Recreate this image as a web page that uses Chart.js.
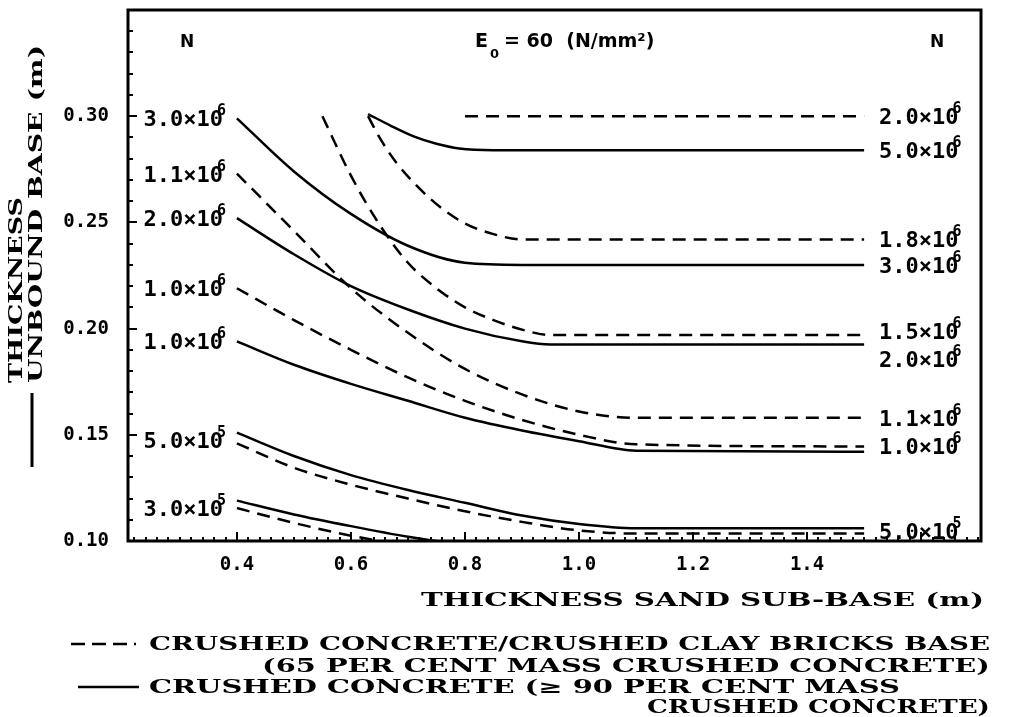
<!DOCTYPE html>
<html>
<head>
<meta charset="utf-8">
<title>Thickness unbound base vs thickness sand sub-base</title>
<script src="https://cdn.jsdelivr.net/npm/chart.js@4.4.1/dist/chart.umd.min.js"></script>
<style>
html, body { margin: 0; background: #fff; }
#wrap { width: 1010px; height: 717px; position: relative; }
</style>
</head>
<body>
<div id="wrap"><canvas id="thicknessChart"></canvas></div>
<script>
// curves: [sand sub-base (m), unbound base (m)]
// dashed = crushed concrete / crushed clay bricks, solid = crushed concrete
var dashed20e6 = [[0.80, 0.300], [1.50, 0.300]];
var solid50e6 = [[0.63, 0.301], [0.67, 0.2955], [0.71, 0.2905], [0.75, 0.287], [0.79, 0.2848], [0.85, 0.284], [1.50, 0.284]];
var dashed18e6 = [[0.63, 0.300], [0.65, 0.290], [0.68, 0.278], [0.72, 0.266], [0.76, 0.2565], [0.80, 0.2495], [0.85, 0.2445], [0.90, 0.242], [1.50, 0.242]];
var solid30e6 = [[0.40, 0.299], [0.50, 0.274], [0.60, 0.254], [0.70, 0.239], [0.80, 0.231], [0.90, 0.230], [1.50, 0.230]];
var dashed15e6 = [[0.55, 0.300], [0.60, 0.272], [0.65, 0.249], [0.70, 0.231], [0.75, 0.219], [0.80, 0.210], [0.85, 0.204], [0.90, 0.1995], [0.95, 0.197], [1.50, 0.197]];
var solid20e6 = [[0.40, 0.252], [0.50, 0.235], [0.60, 0.220], [0.70, 0.209], [0.80, 0.200], [0.90, 0.194], [0.95, 0.1925], [1.50, 0.1925]];
var dashed11e6 = [[0.40, 0.273], [0.50, 0.246], [0.60, 0.219], [0.70, 0.198], [0.80, 0.181], [0.90, 0.169], [1.00, 0.161], [1.10, 0.158], [1.50, 0.158]];
var dashed10e6 = [[0.40, 0.219], [0.50, 0.204], [0.60, 0.190], [0.70, 0.177], [0.80, 0.166], [0.90, 0.157], [1.00, 0.150], [1.10, 0.1455], [1.50, 0.1445]];
var solid10e6 = [[0.40, 0.194], [0.50, 0.183], [0.60, 0.174], [0.70, 0.166], [0.80, 0.158], [0.90, 0.152], [1.00, 0.147], [1.10, 0.1425], [1.50, 0.142]];
var solid50e5 = [[0.40, 0.151], [0.50, 0.140], [0.60, 0.131], [0.70, 0.124], [0.80, 0.118], [0.90, 0.112], [1.00, 0.108], [1.10, 0.106], [1.50, 0.106]];
var dashed50e5 = [[0.40, 0.146], [0.50, 0.1345], [0.60, 0.1265], [0.70, 0.120], [0.80, 0.114], [0.90, 0.109], [1.00, 0.105], [1.10, 0.1035], [1.50, 0.1035]];
var solid30e5 = [[0.40, 0.119], [0.50, 0.1125], [0.60, 0.107], [0.70, 0.102], [0.75, 0.100]];
var dashed30e5 = [[0.40, 0.1155], [0.50, 0.1085], [0.60, 0.1025], [0.65, 0.100]];

var xTickValues = [0.4, 0.6, 0.8, 1.0, 1.2, 1.4];
var yTickValues = [0.10, 0.15, 0.20, 0.25, 0.30];

// N labels: [mantissa, exponent] at the start / end of each curve
var curves = [
    { pts: dashed20e6, dashed: true,  left: null,         right: ['2.0', '6'] },
    { pts: solid50e6,  dashed: false, left: null,         right: ['5.0', '6'] },
    { pts: dashed18e6, dashed: true,  left: null,         right: ['1.8', '6'] },
    { pts: solid30e6,  dashed: false, left: ['3.0', '6'], right: ['3.0', '6'] },
    { pts: dashed15e6, dashed: true,  left: null,         right: ['1.5', '6'], rightDy: -4 },
    { pts: solid20e6,  dashed: false, left: ['2.0', '6'], right: ['2.0', '6'], rightDy: 14 },
    { pts: dashed11e6, dashed: true,  left: ['1.1', '6'], right: ['1.1', '6'] },
    { pts: dashed10e6, dashed: true,  left: ['1.0', '6'], right: ['1.0', '6'] },
    { pts: solid10e6,  dashed: false, left: ['1.0', '6'], right: null },
    { pts: solid50e5,  dashed: false, left: null,         right: null },
    { pts: dashed50e5, dashed: true,  left: ['5.0', '5'], right: ['5.0', '5'], leftDy: -3, rightDy: -3 },
    { pts: solid30e5,  dashed: false, left: null,         right: null },
    { pts: dashed30e5, dashed: true,  left: ['3.0', '5'], right: null }
];

var typeFont = 'bold 18px "DejaVu Serif", "Liberation Serif", serif';
var numFont = '"DejaVu Sans Mono", monospace';

// stretch a line of text so it spans x0..x1
function fitText(ctx, text, x0, x1, y) {
    var w = ctx.measureText(text).width;
    ctx.save();
    ctx.translate(x0, y);
    ctx.scale((x1 - x0) / w, 1);
    ctx.textAlign = 'left';
    ctx.fillText(text, 0, 0);
    ctx.restore();
}

function powerLabel(ctx, tag, x, cy, side) {
    ctx.font = 'bold 22px ' + numFont;
    var main = tag[0] + '\u00d710';
    var w = ctx.measureText(main).width;
    var x0 = side === 'left' ? x - w : x;
    ctx.textAlign = 'left';
    ctx.textBaseline = 'alphabetic';
    ctx.fillText(main, x0, cy + 8);
    ctx.font = 'bold 15px ' + numFont;
    ctx.fillText(tag[1], x0 + w - 6, cy - 3);
}

var annotate = {
    id: 'annotate',
    afterDatasetsDraw: function(chart) {
        var ctx = chart.ctx, a = chart.chartArea;
        var xs = chart.scales.x, ys = chart.scales.y;
        ctx.save();
        ctx.fillStyle = '#000';
        ctx.strokeStyle = '#000';

        // frame
        ctx.lineWidth = 3;
        ctx.strokeRect(a.left, a.top, a.right - a.left, a.bottom - a.top);

        // inward ticks
        ctx.lineWidth = 2;
        ctx.beginPath();
        for (var i = 10; i <= 35; i++) {
            var py = Math.round(ys.getPixelForValue(i / 100));
            var len = i % 5 === 0 ? 9 : 5;
            ctx.moveTo(a.left, py); ctx.lineTo(a.left + len, py);
        }
        for (var j = 11; j <= 85; j++) {
            var px = Math.round(xs.getPixelForValue(j * 0.02));
            var l2 = j % 10 === 0 ? 9 : 4;
            ctx.moveTo(px, a.bottom); ctx.lineTo(px, a.bottom - l2);
        }
        ctx.stroke();

        // N labels at both ends of the curves
        curves.forEach(function(c) {
            var p0 = c.pts[0], p1 = c.pts[c.pts.length - 1];
            if (c.left) {
                powerLabel(ctx, c.left, xs.getPixelForValue(p0[0]) - 14,
                    ys.getPixelForValue(p0[1]) + (c.leftDy || 0), 'left');
            }
            if (c.right) {
                powerLabel(ctx, c.right, xs.getPixelForValue(p1[0]) + 15,
                    ys.getPixelForValue(p1[1]) + (c.rightDy || 0), 'right');
            }
        });

        // header
        ctx.font = 'bold 17px "DejaVu Sans", sans-serif';
        ctx.textAlign = 'center';
        ctx.fillText('N', 187, 47);
        ctx.fillText('N', 937, 47);
        ctx.textAlign = 'left';
        ctx.font = 'bold 19px "DejaVu Sans", sans-serif';
        ctx.fillText('E', 475, 47);
        ctx.font = 'bold 13px "DejaVu Sans", sans-serif';
        ctx.fillText('0', 490, 58);
        ctx.font = 'bold 19px "DejaVu Sans", sans-serif';
        ctx.fillText('= 60  (N/mm\u00b2)', 504, 47);

        // y axis title, read bottom to top
        ctx.font = typeFont;
        ctx.textBaseline = 'middle';
        ctx.save();
        ctx.translate(17, 383);
        ctx.rotate(-Math.PI / 2);
        fitText(ctx, 'THICKNESS', 0, 186, 0);
        ctx.restore();
        ctx.save();
        ctx.translate(37, 383);
        ctx.rotate(-Math.PI / 2);
        fitText(ctx, 'UNBOUND BASE (m)', 0, 338, 0);
        ctx.restore();
        ctx.lineWidth = 3;
        ctx.beginPath();
        ctx.moveTo(32, 393); ctx.lineTo(32, 467);
        ctx.stroke();

        // x axis title and legend
        ctx.textBaseline = 'alphabetic';
        fitText(ctx, 'THICKNESS SAND SUB-BASE (m)', 421, 984, 606);
        fitText(ctx, 'CRUSHED CONCRETE/CRUSHED CLAY BRICKS BASE', 149, 990, 650);
        fitText(ctx, '(65 PER CENT MASS CRUSHED CONCRETE)', 262, 990, 672);
        fitText(ctx, 'CRUSHED CONCRETE (\u2265 90 PER CENT MASS', 149, 900, 693);
        fitText(ctx, 'CRUSHED CONCRETE)', 647, 990, 713);
        ctx.lineWidth = 2.5;
        ctx.setLineDash([14, 7]);
        ctx.beginPath();
        ctx.moveTo(71, 644); ctx.lineTo(136, 644);
        ctx.stroke();
        ctx.setLineDash([]);
        ctx.beginPath();
        ctx.moveTo(78, 687); ctx.lineTo(139, 687);
        ctx.stroke();
        ctx.restore();
    }
};

var datasets = curves.map(function(c) {
    return {
        data: c.pts.map(function(p) { return { x: p[0], y: p[1] }; }),
        borderColor: '#000',
        borderWidth: 2.5,
        borderDash: c.dashed ? [13, 8] : [],
        pointRadius: 0,
        tension: 0.4,
        cubicInterpolationMode: 'monotone',
        fill: false
    };
});

var ctx = document.getElementById('thicknessChart').getContext('2d');
var thicknessChart = new Chart(ctx, {
    type: 'line',
    data: { datasets: datasets },
    options: {
        responsive: true,
        maintainAspectRatio: false,
        animation: false,
        layout: { padding: { top: 10, right: 29, left: 0, bottom: 0 } },
        plugins: { legend: { display: false }, tooltip: { enabled: false } },
        scales: {
            x: {
                type: 'linear',
                min: 0.209,
                max: 1.705,
                afterBuildTicks: function(scale) {
                    scale.ticks = xTickValues.map(function(v) { return { value: v }; });
                },
                afterFit: function(scale) {
                    scale.height = 176;
                    scale.paddingLeft = 0;
                    scale.paddingRight = 0;
                },
                grid: { display: false, drawTicks: false },
                border: { display: false },
                ticks: {
                    color: '#000',
                    padding: 13,
                    maxRotation: 0,
                    font: { family: numFont, size: 19, weight: 'bold' },
                    callback: function(v) { return v.toFixed(1); }
                }
            },
            y: {
                type: 'linear',
                min: 0.10,
                max: 0.35,
                afterBuildTicks: function(scale) {
                    scale.ticks = yTickValues.map(function(v) { return { value: v }; });
                },
                afterFit: function(scale) {
                    scale.width = 128;
                    scale.paddingTop = 0;
                    scale.paddingBottom = 0;
                },
                grid: { display: false, drawTicks: false },
                border: { display: false },
                ticks: {
                    color: '#000',
                    padding: 19,
                    font: { family: numFont, size: 19, weight: 'bold' },
                    callback: function(v) { return v.toFixed(2); }
                }
            }
        }
    },
    plugins: [annotate]
});
</script>
</body>
</html>
